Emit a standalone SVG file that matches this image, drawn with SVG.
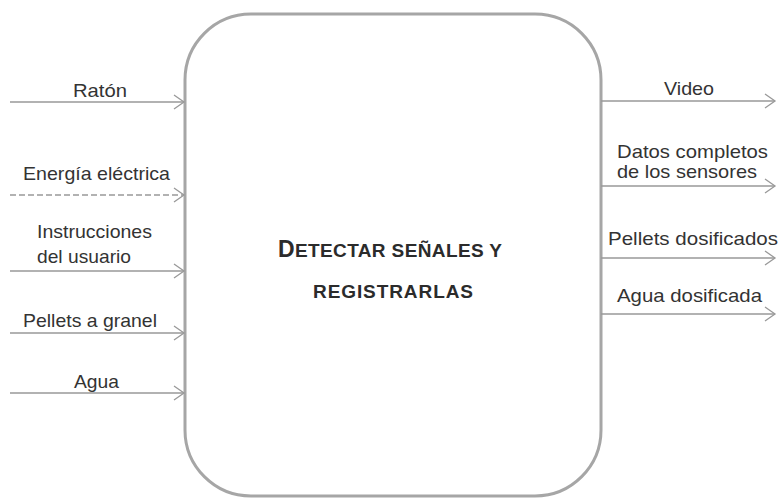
<svg xmlns="http://www.w3.org/2000/svg" width="782" height="498" viewBox="0 0 782 498">
<defs>
<style>
.lbl{font-family:"Liberation Sans",Arial,sans-serif;font-size:19px;fill:#333333}
.ttl{font-family:"Liberation Sans",Arial,sans-serif;fill:#2b2b2b;font-weight:bold}
.flow{stroke:#999999;stroke-width:1.3;fill:none;marker-end:url(#arr)}
.dash{stroke-dasharray:6 3}
.box{fill:#ffffff;stroke:#a6a6a6;stroke-width:3}
</style>
<marker id="arr" markerUnits="userSpaceOnUse" markerWidth="14" markerHeight="18" refX="11" refY="8" orient="auto" viewBox="0 0 14 18">
<path d="M1,1 L11,8 L1,15" fill="none" stroke="#999999" stroke-width="1.3"/>
</marker>
</defs>
<rect width="782" height="498" fill="#ffffff"/>
<g id="process">
<rect class="box" x="185" y="14" width="416" height="482" rx="66" ry="66"/>
<text class="ttl" text-anchor="middle" x="390" y="257" textLength="224" lengthAdjust="spacing"><tspan font-size="23">D</tspan><tspan font-size="19">ETECTAR SEÑALES Y</tspan></text>
<text class="ttl" font-size="19" text-anchor="middle" x="393" y="298" textLength="160" lengthAdjust="spacing">REGISTRARLAS</text>
</g>
<g id="connectors">
<line class="flow" x1="10" y1="102" x2="184" y2="102"/>
<line class="flow dash" x1="10" y1="195" x2="184" y2="195"/>
<line class="flow" x1="10" y1="271" x2="184" y2="271"/>
<line class="flow" x1="10" y1="333" x2="184" y2="333"/>
<line class="flow" x1="10" y1="393" x2="184" y2="393"/>
<line class="flow" x1="601" y1="101" x2="775" y2="101"/>
<line class="flow" x1="601" y1="186" x2="775" y2="186"/>
<line class="flow" x1="601" y1="258" x2="775" y2="258"/>
<line class="flow" x1="601" y1="314" x2="775" y2="314"/>
</g>
<g id="labels">
<text class="lbl" x="73" y="97" textLength="54" lengthAdjust="spacingAndGlyphs">Ratón</text>
<text class="lbl" x="23" y="180" textLength="147" lengthAdjust="spacingAndGlyphs">Energía eléctrica</text>
<text class="lbl" x="37" y="238" textLength="115" lengthAdjust="spacingAndGlyphs">Instrucciones</text>
<text class="lbl" x="37" y="263" textLength="94" lengthAdjust="spacingAndGlyphs">del usuario</text>
<text class="lbl" x="23" y="327" textLength="134" lengthAdjust="spacingAndGlyphs">Pellets a granel</text>
<text class="lbl" x="74" y="388" textLength="45" lengthAdjust="spacingAndGlyphs">Agua</text>
<text class="lbl" x="664" y="95" textLength="50" lengthAdjust="spacingAndGlyphs">Video</text>
<text class="lbl" x="617" y="158" textLength="151" lengthAdjust="spacingAndGlyphs">Datos completos</text>
<text class="lbl" x="617" y="178" textLength="140" lengthAdjust="spacingAndGlyphs">de los sensores</text>
<text class="lbl" x="608" y="245" textLength="170" lengthAdjust="spacingAndGlyphs">Pellets dosificados</text>
<text class="lbl" x="617" y="302" textLength="145" lengthAdjust="spacingAndGlyphs">Agua dosificada</text>
</g>
</svg>
